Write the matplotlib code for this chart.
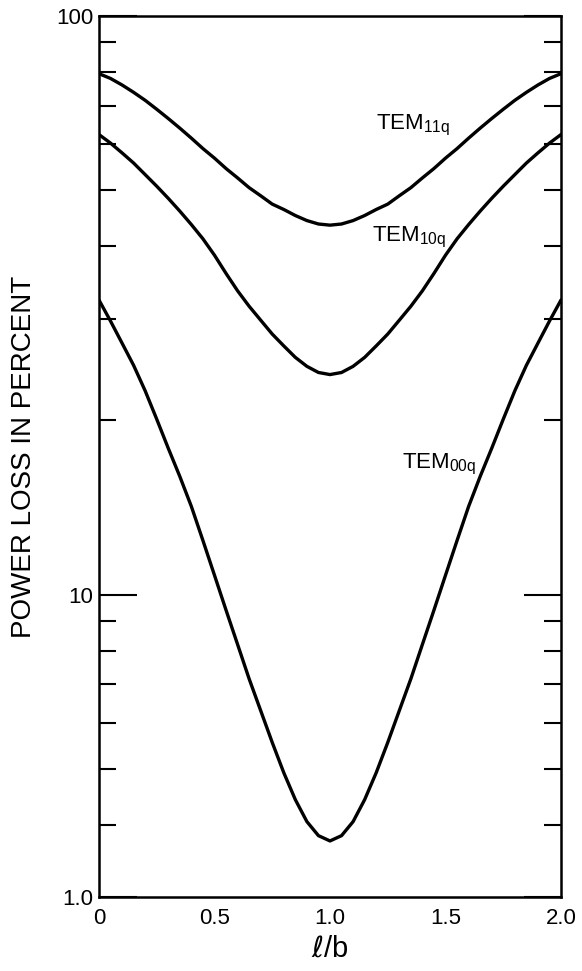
import matplotlib
matplotlib.use("Agg")
import matplotlib.pyplot as plt
from matplotlib.ticker import FixedLocator, NullFormatter

# l/b positions, every 0.05
x = [0.00, 0.05, 0.10, 0.15, 0.20, 0.25, 0.30, 0.35, 0.40, 0.45,
     0.50, 0.55, 0.60, 0.65, 0.70, 0.75, 0.80, 0.85, 0.90, 0.95,
     1.00,
     1.05, 1.10, 1.15, 1.20, 1.25, 1.30, 1.35, 1.40, 1.45, 1.50,
     1.55, 1.60, 1.65, 1.70, 1.75, 1.80, 1.85, 1.90, 1.95, 2.00]

# power loss in percent
tem11q = [79.5, 78.0, 76.0, 73.8, 71.5, 69.0, 66.5, 64.0, 61.5, 59.0,
          56.8, 54.5, 52.5, 50.5, 48.9, 47.3, 46.3, 45.2, 44.3, 43.7,
          43.5,
          43.7, 44.3, 45.2, 46.3, 47.3, 48.9, 50.5, 52.5, 54.5, 56.8,
          59.0, 61.5, 64.0, 66.5, 69.0, 71.5, 73.8, 76.0, 78.0, 79.5]
tem10q = [62.4, 60.3, 58.0, 55.7, 53.2, 50.8, 48.4, 46.0, 43.6, 41.2,
          38.6, 35.9, 33.5, 31.5, 29.8, 28.2, 26.9, 25.7, 24.8, 24.2,
          24.0,
          24.2, 24.8, 25.7, 26.9, 28.2, 29.8, 31.5, 33.5, 35.9, 38.6,
          41.2, 43.6, 46.0, 48.4, 50.8, 53.2, 55.7, 58.0, 60.3, 62.4]
tem00q = [32.3, 29.7, 27.2, 24.9, 22.5, 20.1, 17.9, 16.0, 14.2, 12.4,
          10.8, 9.4, 8.2, 7.15, 6.3, 5.55, 4.92, 4.42, 4.05, 3.83,
          3.75,
          3.83, 4.05, 4.42, 4.92, 5.55, 6.3, 7.15, 8.2, 9.4, 10.8,
          12.4, 14.2, 16.0, 17.9, 20.1, 22.5, 24.9, 27.2, 29.7, 32.3]

x_ticks = [0, 0.5, 1.0, 1.5, 2.0]
x_labels = ["0", "0.5", "1.0", "1.5", "2.0"]
y_major = [3, 10, 100]
y_labels = ["1.0", "10", "100"]
y_minor = [4, 5, 6, 7, 8, 9, 20, 30, 40, 50, 60, 70, 80, 90]

plt.rcParams["font.family"] = ["Liberation Sans", "DejaVu Sans"]

fig = plt.figure(figsize=(5.82, 9.71), dpi=100)
ax = fig.add_axes([0.170, 0.0762, 0.794, 0.9073])

for ys in (tem11q, tem10q, tem00q):
    ax.plot(x, ys, color="black", lw=2.4, solid_joinstyle="round",
            solid_capstyle="round")

ax.set_yscale("log")
ax.set_xlim(0, 2.0)
ax.set_ylim(3, 100)

ax.yaxis.set_major_locator(FixedLocator(y_major))
ax.yaxis.set_minor_locator(FixedLocator(y_minor))
ax.set_yticklabels(y_labels)
ax.yaxis.set_minor_formatter(NullFormatter())
ax.set_xticks(x_ticks)
ax.set_xticklabels(x_labels)

ax.tick_params(axis="y", which="major", direction="in", length=27, width=1.5,
               left=True, right=True, labelsize=16, pad=4)
ax.tick_params(axis="y", which="minor", direction="in", length=12, width=1.5,
               left=True, right=True)
ax.tick_params(axis="x", length=0, labelsize=16, pad=8)

for s in ax.spines.values():
    s.set_linewidth(1.8)

ax.text(1.20, 64.7, r"TEM$_{\mathregular{11q}}$", fontsize=16, va="center")
ax.text(1.18, 41.5, r"TEM$_{\mathregular{10q}}$", fontsize=16, va="center")
ax.text(1.31, 16.8, r"TEM$_{\mathregular{00q}}$", fontsize=16, va="center")

ax.set_ylabel("POWER LOSS IN PERCENT", fontsize=20, labelpad=14)
ax.set_xlabel(r"$\ell$/b", fontsize=21, labelpad=4)

fig.savefig("out.png", dpi=100)
